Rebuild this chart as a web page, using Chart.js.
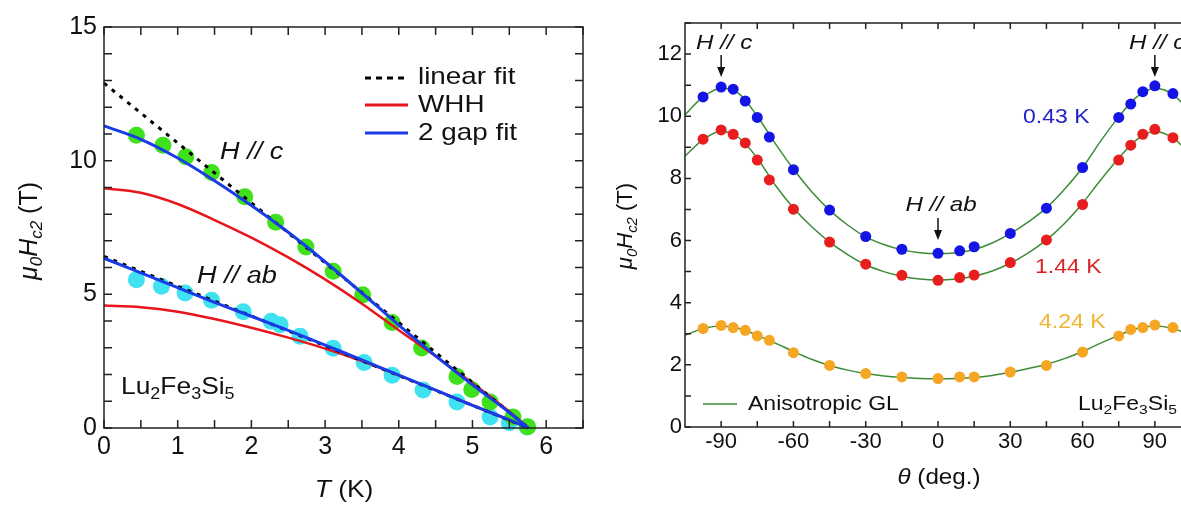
<!DOCTYPE html>
<html><head><meta charset="utf-8">
<script src="https://cdn.jsdelivr.net/npm/chart.js@4/dist/chart.umd.min.js"></script>
<style>
html,body{margin:0;padding:0;background:#fff;overflow:hidden;width:1181px;height:507px;}
#c1{position:absolute;left:0;top:0;}
#c2{position:absolute;left:600px;top:0;}
</style></head><body>
<canvas id="c1" width="600" height="507" style="width:600px;height:507px"></canvas>
<canvas id="c2" width="610" height="507" style="width:610px;height:507px"></canvas>
<script>
// ---------- Left panel data (T in K, mu0Hc2 in T) ----------
const tempHc = [0.44,0.80,1.11,1.46,1.91,2.33,2.74,3.11,3.51,3.91,4.31,4.79,4.99,5.24,5.55,5.75];
const hc2HparC = [10.95,10.58,10.15,9.56,8.65,7.70,6.77,5.86,4.98,3.95,2.99,1.93,1.44,0.97,0.41,0.05];
const tempHab = [0.44,0.78,1.10,1.46,1.89,2.27,2.39,2.66,3.11,3.53,3.91,4.33,4.79,5.24,5.50,5.74];
const hc2HparAb = [5.55,5.30,5.05,4.78,4.35,3.99,3.86,3.43,2.98,2.45,1.97,1.42,0.97,0.41,0.20,0.04];
const fitT = [0,0.5,1,1.5,2,2.5,3,3.5,4,4.5,5,5.5,5.76];
const gapFitC = [11.3,10.8,10.1,9.25,8.32,7.32,6.22,5.05,3.85,2.7,1.62,0.58,0];
const whhC = [8.97,8.8,8.38,7.78,7.12,6.38,5.56,4.65,3.66,2.68,1.68,0.62,0];
const gapFitAb = [6.35,5.8,5.25,4.7,4.18,3.65,3.1,2.55,1.98,1.42,0.85,0.3,0];
const whhAb = [4.58,4.52,4.35,4.08,3.75,3.38,2.97,2.5,1.97,1.42,0.85,0.3,0];
const linT = [0,5.76];
const linFitC = [12.9,0];
const linFitAb = [6.42,0];
const leftXTicks = [0,0.5,1,1.5,2,2.5,3,3.5,4,4.5,5,5.5,6,6.5];
const leftXLabels = [0,1,2,3,4,5,6];
const leftYTicks = [0,1,2,3,4,5,6,7,8,9,10,11,12,13,14,15];
const leftYLabels = [0,5,10,15];

// ---------- Right panel data (theta in deg, mu0Hc2 in T) ----------
const theta = [-97.5,-90,-85,-80,-75,-70,-60,-45,-30,-15,0,9,15,30,45,60,75,80,85,90,97.5];
const hc2At043K = [10.62,10.94,10.87,10.49,9.96,9.33,8.28,6.98,6.13,5.72,5.59,5.67,5.80,6.23,7.04,8.35,9.96,10.39,10.79,10.98,10.73];
const hc2At144K = [9.26,9.56,9.42,9.14,8.59,7.95,7.01,5.95,5.24,4.88,4.72,4.81,4.89,5.29,6.02,7.16,8.59,9.07,9.42,9.58,9.31];
const hc2At424K = [3.17,3.27,3.20,3.11,2.93,2.79,2.39,1.98,1.72,1.61,1.56,1.61,1.61,1.77,1.98,2.41,2.93,3.14,3.20,3.28,3.20];
const glTheta = [-105,-97.5,-90,-82.5,-75,-67.5,-60,-52.5,-45,-37.5,-30,-22.5,-15,-7.5,0,7.5,15,22.5,30,37.5,45,52.5,60,67.5,75,82.5,90,97.5,105];
const glFit043K = [10.05,10.62,10.9,10.72,10.0,9.12,8.3,7.58,6.98,6.5,6.12,5.87,5.7,5.61,5.58,5.61,5.71,5.92,6.22,6.6,7.05,7.65,8.35,9.2,9.98,10.62,10.9,10.7,10.1];
const glFit144K = [8.72,9.25,9.52,9.3,8.65,7.78,7.05,6.45,5.95,5.55,5.22,5.0,4.85,4.76,4.73,4.76,4.85,5.02,5.27,5.6,6.02,6.55,7.2,7.95,8.65,9.25,9.52,9.3,8.75];
const glFit424K = [2.95,3.17,3.25,3.17,2.95,2.7,2.43,2.18,1.98,1.83,1.72,1.64,1.59,1.56,1.55,1.56,1.59,1.66,1.76,1.88,2.02,2.2,2.43,2.7,2.95,3.17,3.25,3.17,2.95];
const rightXTicks = [-90,-75,-60,-45,-30,-15,0,15,30,45,60,75,90];
const rightXLabels = [-90,-60,-30,0,30,60,90];
const rightYTicks = [0,1,2,3,4,5,6,7,8,9,10,11,12,13];
const rightYLabels = [0,2,4,6,8,10,12];

const FAM = '"Liberation Sans", Arial, Helvetica, sans-serif';
const zip = (xs, ys) => xs.map((x, i) => ({x, y: ys[i]}));

function richText(ctx, parts, x, y, o) {
  ctx.save();
  ctx.translate(x, y);
  if (o.rot) { ctx.rotate(-Math.PI / 2); ctx.scale(1, o.sx || 1); }
  else ctx.scale(o.sx || 1, 1);
  let total = 0;
  const segs = parts.map(p => {
    const st = p[1] || '';
    const sub = st.includes('s'), it = st.includes('i');
    const sz = sub ? o.size * 0.68 : o.size;
    const font = (it ? 'italic ' : '') + sz + 'px ' + FAM;
    ctx.font = font;
    const w = ctx.measureText(p[0]).width;
    total += w;
    return {t: p[0], font, w, dy: sub ? o.size * 0.3 : 0};
  });
  let cx = o.align === 'center' ? -total / 2 : 0;
  ctx.fillStyle = o.color || '#111';
  ctx.textBaseline = 'middle';
  ctx.textAlign = 'left';
  segs.forEach(s => { ctx.font = s.font; ctx.fillText(s.t, cx, s.dy); cx += s.w; });
  ctx.restore();
}

function frameAndTicks(chart, xt, yt, len, sides) {
  const ctx = chart.ctx, a = chart.chartArea;
  const xs = chart.scales.x, ys = chart.scales.y;
  ctx.save();
  ctx.strokeStyle = '#222';
  ctx.lineWidth = 1.5;
  ctx.strokeRect(a.left, a.top, a.right - a.left, a.bottom - a.top);
  ctx.beginPath();
  xt.forEach(v => {
    const px = xs.getPixelForValue(v);
    ctx.moveTo(px, a.bottom); ctx.lineTo(px, a.bottom - len);
    ctx.moveTo(px, a.top); ctx.lineTo(px, a.top + len);
  });
  yt.forEach(v => {
    const py = ys.getPixelForValue(v);
    ctx.moveTo(a.left, py); ctx.lineTo(a.left + len, py);
    ctx.moveTo(a.right, py); ctx.lineTo(a.right - len, py);
  });
  ctx.stroke();
  ctx.restore();
}

function arrow(ctx, x, y1, y2) {
  ctx.save();
  ctx.strokeStyle = '#111'; ctx.fillStyle = '#111'; ctx.lineWidth = 1.5;
  ctx.beginPath(); ctx.moveTo(x, y1); ctx.lineTo(x, y2 - 8); ctx.stroke();
  ctx.beginPath(); ctx.moveTo(x - 4, y2 - 10); ctx.lineTo(x + 4, y2 - 10); ctx.lineTo(x, y2); ctx.closePath(); ctx.fill();
  ctx.restore();
}

function scaleCfg(min, max, tickVals, labelVals, size, pad, fitProp, fitVal) {
  return {
    type: 'linear', min, max,
    afterBuildTicks: s => { s.ticks = tickVals.map(v => ({value: v})); },
    afterFit: s => { s[fitProp] = fitVal; },
    grid: {display: false, drawTicks: false},
    border: {display: false},
    ticks: {
      autoSkip: false, maxRotation: 0, minRotation: 0,
      padding: pad, color: '#111',
      font: {family: FAM, size},
      callback: v => labelVals.includes(v) ? String(v) : ''
    }
  };
}

// ---------- Left chart ----------
const leftPlugin = {
  id: 'leftDecor',
  afterDraw(chart) {
    const ctx = chart.ctx;
    frameAndTicks(chart, leftXTicks, leftYTicks, 8);
    // legend
    ctx.save();
    ctx.lineWidth = 3;
    ctx.strokeStyle = '#000'; ctx.setLineDash([6, 5]);
    ctx.beginPath(); ctx.moveTo(365, 78); ctx.lineTo(408, 78); ctx.stroke();
    ctx.setLineDash([]);
    ctx.strokeStyle = '#e8161c';
    ctx.beginPath(); ctx.moveTo(365, 105); ctx.lineTo(408, 105); ctx.stroke();
    ctx.strokeStyle = '#1a3ce6';
    ctx.beginPath(); ctx.moveTo(365, 133); ctx.lineTo(408, 133); ctx.stroke();
    ctx.restore();
    const lo = {size: 24, sx: 1.16};
    richText(ctx, [['linear fit']], 418, 77, lo);
    richText(ctx, [['WHH']], 418, 105, lo);
    richText(ctx, [['2 gap fit']], 418, 133, lo);
    richText(ctx, [['H // c', 'i']], 220, 153, {size: 23, sx: 1.18});
    richText(ctx, [['H // ab', 'i']], 197, 277, {size: 23, sx: 1.18});
    richText(ctx, [['Lu'], ['2', 's'], ['Fe'], ['3', 's'], ['Si'], ['5', 's']], 121, 387, {size: 24, sx: 1.1});
    richText(ctx, [['μ', 'i'], ['0', 'si'], ['H', 'i'], ['c2', 'si'], [' (T)']], 30, 231, {size: 25, rot: true, align: 'center'});
    richText(ctx, [['T', 'i'], [' (K)']], 344, 490, {size: 24, sx: 1.1, align: 'center'});
  }
};

const lineDs = (label, xs, ys, color, width, order, dash) => ({
  label, data: zip(xs, ys), showLine: true, pointRadius: 0, borderColor: color,
  borderWidth: width, borderDash: dash || [], cubicInterpolationMode: 'monotone',
  fill: false, order, clip: false
});
const ptDs = (label, xs, ys, color, r, order) => ({
  label, data: zip(xs, ys), showLine: false, pointRadius: r, pointBackgroundColor: color,
  backgroundColor: color, pointBorderWidth: 0, borderWidth: 0, order, clip: false
});

new Chart(document.getElementById('c1'), {
  type: 'scatter',
  data: {datasets: [
    lineDs('2 gap fit (H // c)', fitT, gapFitC, '#1a3ce6', 3, 1),
    lineDs('2 gap fit (H // ab)', fitT, gapFitAb, '#1a3ce6', 3, 1),
    lineDs('linear fit (H // c)', linT, linFitC, '#000', 3, 2, [4, 6]),
    lineDs('linear fit (H // ab)', linT, linFitAb, '#000', 3, 2, [4, 6]),
    lineDs('WHH (H // c)', fitT, whhC, '#e8161c', 2.5, 3),
    lineDs('WHH (H // ab)', fitT, whhAb, '#e8161c', 2.5, 3),
    ptDs('H // c', tempHc, hc2HparC, '#3fe01c', 8.5, 5),
    ptDs('H // ab', tempHab, hc2HparAb, '#40e2f2', 8.5, 5)
  ]},
  options: {
    responsive: false, animation: false, events: [],
    layout: {padding: {top: 27, right: 17, left: 0, bottom: 0}},
    plugins: {legend: {display: false}, tooltip: {enabled: false}},
    scales: {
      x: scaleCfg(0, 6.5, leftXTicks, leftXLabels, 25, 4, 'height', 79),
      y: scaleCfg(0, 15, leftYTicks, leftYLabels, 25, 7, 'width', 104)
    }
  },
  plugins: [leftPlugin]
});

// ---------- Right chart ----------
const rightPlugin = {
  id: 'rightDecor',
  afterDraw(chart) {
    const ctx = chart.ctx;
    const xs = chart.scales.x;
    frameAndTicks(chart, rightXTicks, rightYTicks, 6);
    const ao = {size: 21, sx: 1.15};
    richText(ctx, [['H // c', 'i']], 96, 43, ao);
    richText(ctx, [['H // c', 'i']], 529, 43, ao);
    richText(ctx, [['H // ab', 'i']], xs.getPixelForValue(0) + 3, 205, Object.assign({align: 'center'}, ao));
    arrow(ctx, xs.getPixelForValue(-90), 55, 77);
    arrow(ctx, xs.getPixelForValue(90), 55, 77);
    arrow(ctx, xs.getPixelForValue(0), 218, 240);
    richText(ctx, [['0.43 K']], 423, 117, {size: 20, sx: 1.15, color: '#2222c8'});
    richText(ctx, [['1.44 K']], 435, 267, {size: 20, sx: 1.15, color: '#d82626'});
    richText(ctx, [['4.24 K']], 439, 322, {size: 20, sx: 1.15, color: '#f2b232'});
    ctx.save();
    ctx.strokeStyle = '#3d8b37'; ctx.lineWidth = 1.5;
    ctx.beginPath(); ctx.moveTo(103, 404); ctx.lineTo(137, 404); ctx.stroke();
    ctx.restore();
    richText(ctx, [['Anisotropic GL']], 148, 404, {size: 20, sx: 1.15});
    richText(ctx, [['Lu'], ['2', 's'], ['Fe'], ['3', 's'], ['Si'], ['5', 's']], 478, 404, {size: 20, sx: 1.15});
    richText(ctx, [['μ', 'i'], ['0', 'si'], ['H', 'i'], ['c2', 'si'], [' (T)']], 26, 226, {size: 22, rot: true, align: 'center'});
    richText(ctx, [['θ', 'i'], [' (deg.)']], 339, 478, {size: 22, sx: 1.1, align: 'center'});
  }
};

new Chart(document.getElementById('c2'), {
  type: 'scatter',
  data: {datasets: [
    ptDs('0.43 K', theta, hc2At043K, '#1414e6', 5.5, 1),
    ptDs('1.44 K', theta, hc2At144K, '#e81e1e', 5.5, 1),
    ptDs('4.24 K', theta, hc2At424K, '#f5a623', 5.5, 1),
    lineDs('Anisotropic GL 0.43 K', glTheta, glFit043K, '#3d8b37', 1.5, 3),
    lineDs('Anisotropic GL 1.44 K', glTheta, glFit144K, '#3d8b37', 1.5, 3),
    lineDs('Anisotropic GL 4.24 K', glTheta, glFit424K, '#3d8b37', 1.5, 3)
  ]},
  options: {
    responsive: false, animation: false, events: [],
    layout: {padding: {top: 23, right: 19, left: 0, bottom: 0}},
    plugins: {legend: {display: false}, tooltip: {enabled: false}},
    scales: {
      x: scaleCfg(-105, 105, rightXTicks, rightXLabels, 22, 2, 'height', 80),
      y: scaleCfg(0, 13, rightYTicks, rightYLabels, 22, 3, 'width', 85)
    }
  },
  plugins: [rightPlugin]
});
</script>
</body></html>
